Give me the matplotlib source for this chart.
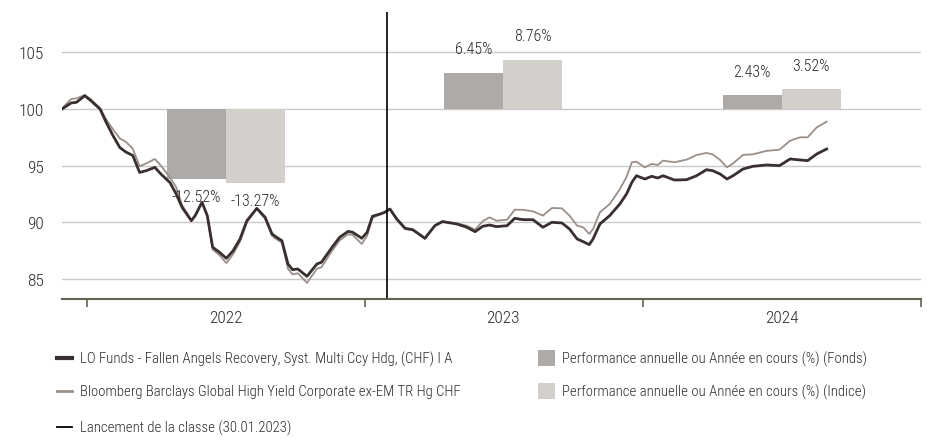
import matplotlib
matplotlib.use('Agg')
import matplotlib.pyplot as plt
import matplotlib.dates as mdates
from matplotlib.lines import Line2D
from matplotlib.patches import Rectangle
import numpy as np
import pandas as pd

plt.rcParams['font.family'] = ['Roboto Condensed', 'DejaVu Sans']
plt.rcParams['font.weight'] = 'light'

# ---- data ----
dates = [
    "2021-11-29", "2021-12-11", "2021-12-18", "2021-12-29", "2022-01-06", "2022-01-18",
    "2022-01-26", "2022-02-04", "2022-02-13", "2022-02-21", "2022-03-02", "2022-03-11",
    "2022-03-20", "2022-03-31", "2022-04-08", "2022-04-20", "2022-04-28", "2022-05-06",
    "2022-05-18", "2022-05-23", "2022-06-01", "2022-06-08", "2022-06-15", "2022-06-24",
    "2022-07-03", "2022-07-12", "2022-07-21", "2022-07-30", "2022-08-12", "2022-08-23",
    "2022-09-01", "2022-09-07", "2022-09-14", "2022-09-22", "2022-09-28", "2022-10-05",
    "2022-10-17", "2022-10-30", "2022-11-05", "2022-11-19", "2022-11-29", "2022-12-10",
    "2022-12-16", "2022-12-28", "2023-01-04", "2023-01-11", "2023-01-21", "2023-01-27",
    "2023-02-03", "2023-02-12", "2023-02-23", "2023-03-05", "2023-03-21", "2023-04-03",
    "2023-04-13", "2023-05-02", "2023-05-15", "2023-05-26", "2023-06-05", "2023-06-14",
    "2023-06-23", "2023-07-07", "2023-07-17", "2023-07-28", "2023-08-10", "2023-08-23",
    "2023-09-04", "2023-09-17", "2023-09-27", "2023-10-07", "2023-10-15", "2023-10-23",
    "2023-10-28", "2023-11-06", "2023-11-19", "2023-12-02", "2023-12-11", "2023-12-18",
    "2023-12-24", "2024-01-04", "2024-01-13", "2024-01-21", "2024-01-28", "2024-02-12",
    "2024-02-28", "2024-03-12", "2024-03-25", "2024-04-02", "2024-04-12", "2024-04-21",
    "2024-04-29", "2024-05-12", "2024-05-25", "2024-06-12", "2024-06-29", "2024-07-13",
    "2024-07-26", "2024-08-05", "2024-08-17", "2024-08-30",
]
fund = [
    100.0, 100.53, 100.59, 101.17, 100.73, 100.0,
    98.83, 97.65, 96.6, 96.2, 95.9, 94.4,
    94.56, 94.85, 94.26, 93.5, 92.5, 91.3,
    90.14, 90.58, 91.77, 90.58, 87.8, 87.35,
    86.82, 87.5, 88.53, 90.14, 91.23, 90.44,
    88.97, 88.68, 88.38, 86.32, 85.82, 85.88,
    85.23, 86.32, 86.47, 87.8, 88.68, 89.2,
    89.12, 88.59, 89.12, 90.53, 90.73, 90.88,
    91.17, 90.29, 89.47, 89.35, 88.59, 89.7,
    90.06, 89.85, 89.56, 89.17, 89.65, 89.76,
    89.62, 89.7, 90.35, 90.23, 90.23, 89.56,
    90.0, 89.94, 89.41, 88.53, 88.29, 88.03,
    88.53, 89.85, 90.6, 91.6, 92.5, 93.53,
    94.11, 93.82, 94.06, 93.91, 94.11, 93.73,
    93.76, 94.11, 94.64, 94.56, 94.26, 93.82,
    94.11, 94.7, 94.94, 95.06, 95.0, 95.59,
    95.5, 95.44, 96.03, 96.47,
]
index = [
    100.05, 100.88, 100.94, 101.23, 100.85, 100.05,
    99.1, 98.2, 97.4, 97.1, 96.5, 94.95,
    95.2, 95.59, 95.0, 93.95, 93.1, 91.5,
    90.2, 90.6, 91.8, 90.5, 87.6, 87.1,
    86.4, 87.2, 88.3, 90.0, 91.2, 90.3,
    88.8, 88.5, 88.2, 85.9, 85.4, 85.5,
    84.65, 85.9, 86.03, 87.5, 88.4, 88.95,
    88.88, 88.09, 88.8, 90.4, 90.7, 90.85,
    91.17, 90.2, 89.4, 89.3, 88.53, 89.7,
    90.09, 89.9, 89.7, 89.35, 90.1, 90.44,
    90.14, 90.23, 91.11, 91.1, 90.97, 90.59,
    91.26, 91.23, 90.59, 89.7, 89.56, 88.97,
    89.41, 90.88, 91.62, 92.9, 94.0, 95.3,
    95.35, 94.85, 95.15, 95.06, 95.44, 95.3,
    95.53, 95.94, 96.12, 96.0, 95.5, 94.85,
    95.2, 95.95, 96.0, 96.3, 96.41, 97.2,
    97.5, 97.5, 98.38, 98.88,
]
years = [2022, 2023, 2024]
perf_fund = [-12.52, 6.45, 2.43]
perf_index = [-13.27, 8.76, 3.52]
launch_date = "2023-01-30"
yticks = [85, 90, 95, 100, 105]

legend_fund = "LO Funds - Fallen Angels Recovery, Syst. Multi Ccy Hdg, (CHF) I A"
legend_index = "Bloomberg Barclays Global High Yield Corporate ex-EM TR Hg CHF"
legend_launch = "Lancement de la classe (30.01.2023)"
legend_bar_fund = "Performance annuelle ou Année en cours (%) (Fonds)"
legend_bar_index = "Performance annuelle ou Année en cours (%) (Indice)"

# ---- styles ----
C_FUND = '#3a2f2f'
C_INDEX = '#9a8f89'
C_BAR_FUND = '#aeaaa8'
C_BAR_INDEX = '#d3cfcb'
C_GRID = '#c9c9c9'
C_AXIS = '#5f634f'
C_TEXT = '#2b2b2b'
BAR_SCALE = 0.495
BAR_WIDTH_DAYS = 77.5

W, H = 928, 439
fig = plt.figure(figsize=(W / 100, H / 100), dpi=100)
ax = fig.add_axes([62 / W, 1 - 300 / H, (921 - 62) / W, (300 - 13) / H])

x = pd.to_datetime(dates)

# grid
for yv in yticks:
    ax.axhline(yv, color=C_GRID, lw=1.0, zorder=1)

# bars
for yr, pf, pi in zip(years, perf_fund, perf_index):
    mid = pd.Timestamp(f"{yr}-07-02")
    left = mid - pd.Timedelta(days=BAR_WIDTH_DAYS)
    ax.bar(mdates.date2num(left), pf * BAR_SCALE, bottom=100, width=BAR_WIDTH_DAYS,
           align='edge', color=C_BAR_FUND, zorder=2, linewidth=0)
    ax.bar(mdates.date2num(mid), pi * BAR_SCALE, bottom=100, width=BAR_WIDTH_DAYS,
           align='edge', color=C_BAR_INDEX, zorder=2, linewidth=0)
    for xc, v in ((mdates.date2num(mid) - BAR_WIDTH_DAYS / 2, pf),
                  (mdates.date2num(mid) + BAR_WIDTH_DAYS / 2, pi)):
        yv = 100 + v * BAR_SCALE
        off = 17.3 if v >= 0 else -12.6
        ax.annotate(f"{v:.2f}%", (xc, yv), xytext=(0, off), textcoords='offset points',
                    ha='center', va='center', fontsize=11.5, color=C_TEXT, zorder=5)

# lines
ax.plot(x, index, color=C_INDEX, lw=1.3, zorder=3)
ax.plot(x, fund, color=C_FUND, lw=2.0, zorder=4)

# launch line
ax.axvline(pd.Timestamp(launch_date), color='black', lw=1.2, zorder=4)

ax.set_xlim(pd.Timestamp("2021-11-29"), pd.Timestamp("2025-01-01"))
ax.set_ylim(83.23, 108.56)

for s in ['left', 'right', 'top']:
    ax.spines[s].set_visible(False)
ax.spines['bottom'].set_color(C_AXIS)
ax.spines['bottom'].set_linewidth(1.5)
ax.spines['bottom'].set_zorder(6)

ax.set_yticks(yticks)
ax.set_yticklabels([str(v) for v in yticks])
ax.tick_params(axis='y', length=0, pad=13, labelsize=12.5, labelcolor=C_TEXT)

major = [pd.Timestamp(f"{y}-01-01") for y in [2022, 2023, 2024, 2025]]
ax.set_xticks(major)
ax.set_xticklabels([''] * len(major))
ax.set_xticks([pd.Timestamp(f"{y}-07-02") for y in years], minor=True)
ax.set_xticklabels([str(y) for y in years], minor=True)
ax.tick_params(axis='x', which='major', length=6, width=1.2, color=C_AXIS, direction='out')
ax.tick_params(axis='x', which='minor', length=0, pad=8, labelsize=12.5, labelcolor=C_TEXT)

# ---- legend (manual) ----
def fx(px):
    return px / W

def fy(py):
    return 1 - py / H

rows = [(359, legend_fund, C_FUND, 3.0), (392, legend_index, C_INDEX, 2.0), (428, legend_launch, 'black', 1.3)]
for py, label, col, lw in rows:
    fig.add_artist(Line2D([fx(57), fx(72)], [fy(py), fy(py)], color=col, lw=lw, transform=fig.transFigure))
    fig.text(fx(80), fy(py), label, ha='left', va='center', fontsize=10.6, color=C_TEXT)

for py, label, col in [(359, legend_bar_fund, C_BAR_FUND), (392, legend_bar_index, C_BAR_INDEX)]:
    fig.add_artist(Rectangle((fx(538), fy(py + 8)), 17 / W, 16 / H, color=col, transform=fig.transFigure, lw=0))
    fig.text(fx(562), fy(py), label, ha='left', va='center', fontsize=10.6, color=C_TEXT)

fig.savefig('out.png', dpi=100)
